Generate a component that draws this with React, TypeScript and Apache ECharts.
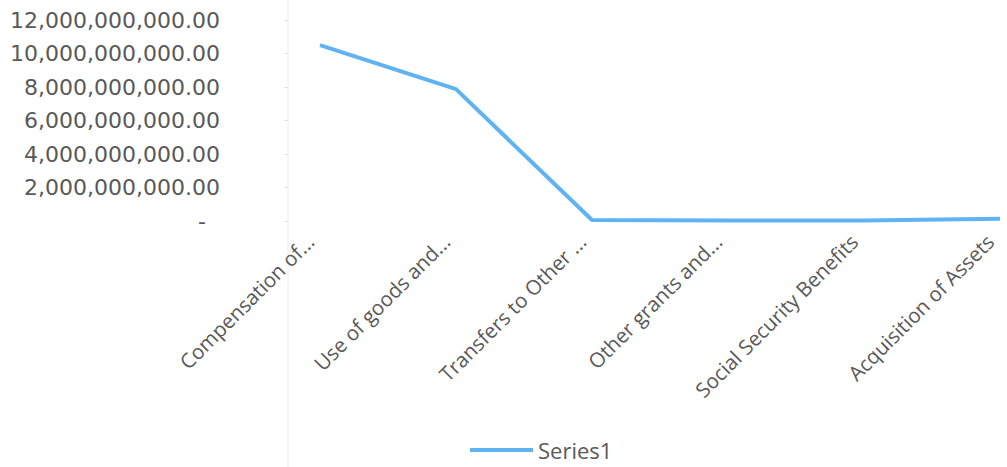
import React, { useEffect, useRef } from "react";
import * as echarts from "echarts";

const categories = [
  "Compensation of...",
  "Use of goods and...",
  "Transfers to Other ...",
  "Other grants and...",
  "Social Security Benefits",
  "Acquisition of Assets",
];
const series1 = [10500000000, 7870000000, 60000000, 30000000, 30000000, 140000000];
const yTicks = { min: 0, max: 12000000000, interval: 2000000000 };

const fmt = (v: number) =>
  v === 0
    ? "{dash|-}"
    : v.toLocaleString("en-US", { minimumFractionDigits: 2, maximumFractionDigits: 2 });

export default function App() {
  const ref = useRef<HTMLDivElement>(null);
  useEffect(() => {
    document.body.style.margin = "0";
    if (!ref.current) return;
    const chart = echarts.init(ref.current, undefined, { renderer: "svg" });
    const textColor = "#595959";
    chart.setOption({
      animation: false,
      grid: { left: 320, right: 7, top: 20, bottom: 246, containLabel: false },
      graphic: [
        {
          type: "line",
          shape: { x1: 288, y1: 0, x2: 288, y2: 467 },
          style: { stroke: "#ebe8f0", lineWidth: 1 },
        },
      ],
      legend: {
        left: 470,
        top: 438,
        padding: 0,
        itemWidth: 63,
        itemHeight: 4,
        itemGap: 5,
        icon: "rect",
        textStyle: { color: textColor, fontFamily: "Open Sans", fontSize: 22, lineHeight: 24 },
        data: ["Series1"],
      },
      xAxis: {
        type: "category",
        data: categories,
        boundaryGap: false,
        axisLine: { show: false },
        axisTick: { show: false },
        axisLabel: {
          rotate: 45,
          margin: 7,
          padding: [0, 14, 0, 0],
          color: textColor,
          fontFamily: "Open Sans",
          fontSize: 20.5,
          interval: 0,
        },
      },
      yAxis: {
        type: "value",
        min: yTicks.min,
        max: yTicks.max,
        interval: yTicks.interval,
        offset: 32,
        splitLine: { show: false },
        axisLine: { show: false },
        axisTick: { show: true, length: 4, lineStyle: { color: "#e4e0ea" } },
        axisLabel: {
          margin: 68,
          color: textColor,
          fontFamily: "DejaVu Sans",
          fontSize: 22,
          formatter: (v: number) => fmt(v),
          rich: {
            dash: {
              color: textColor,
              fontFamily: "DejaVu Sans",
              fontSize: 22,
              padding: [0, 14, 0, 0],
            },
          },
        },
      },
      series: [
        {
          name: "Series1",
          type: "line",
          data: series1,
          symbol: "none",
          lineStyle: { color: "#5fb3f2", width: 4 },
          itemStyle: { color: "#5fb3f2" },
        },
      ],
    });
    return () => chart.dispose();
  }, []);
  return <div ref={ref} style={{ width: 1007, height: 467 }} />;
}
